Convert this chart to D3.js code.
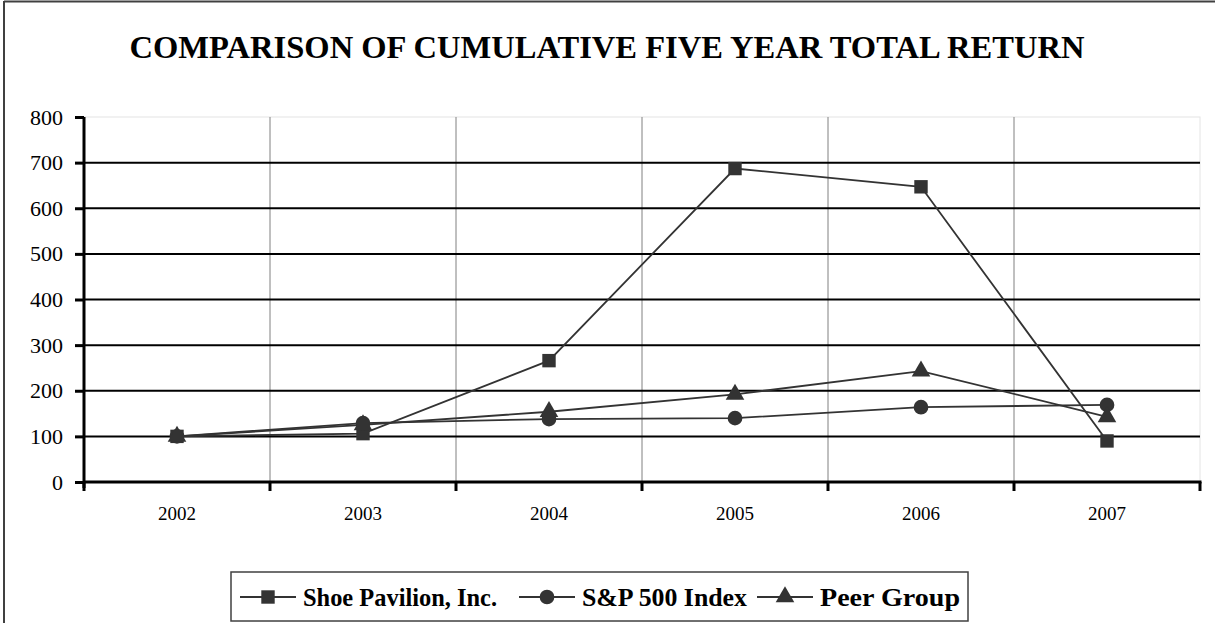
<!DOCTYPE html>
<html>
<head>
<meta charset="utf-8">
<script src="https://cdn.jsdelivr.net/npm/d3@7"></script>
<style>
  body { margin: 0; background: #fff; }
  svg text { font-family: "Liberation Serif", "Times New Roman", serif; }
</style>
</head>
<body>
<div id="chart"></div>
<script>
// data
var years = ["2002", "2003", "2004", "2005", "2006", "2007"];
var shoe  = [100, 106, 266, 687, 647, 90];
var sp500 = [100, 129, 138, 140, 164, 169];
var peer  = [100, 125, 154, 192, 243, 143];
var yTicks = [0, 100, 200, 300, 400, 500, 600, 700, 800];
var seriesNames = ["Shoe Pavilion, Inc.", "S&P 500 Index", "Peer Group"];
var seriesSymbols = [d3.symbolSquare, d3.symbolCircle, d3.symbolTriangle];

var W = 1215, H = 623;
var plot = {left: 84, right: 1200, top: 117, bot: 482};

var svg = d3.select("#chart").append("svg")
    .attr("width", W)
    .attr("height", H);

// outer frame (only top and left edges visible in the picture)
svg.append("line")
    .attr("x1", 4).attr("y1", 1.5).attr("x2", W).attr("y2", 1.5)
    .attr("stroke", "#404040").attr("stroke-width", 2);
svg.append("line")
    .attr("x1", 4).attr("y1", 1).attr("x2", 4).attr("y2", H)
    .attr("stroke", "#404040").attr("stroke-width", 2);

svg.append("text")
    .attr("x", 607)
    .attr("y", 58)
    .attr("text-anchor", "middle")
    .attr("font-size", 31)
    .attr("font-weight", "bold")
    .attr("textLength", 955)
    .attr("lengthAdjust", "spacingAndGlyphs")
    .text("COMPARISON OF CUMULATIVE FIVE YEAR TOTAL RETURN");

var x = d3.scaleBand().domain(years).range([plot.left, plot.right]);
var y = d3.scaleLinear().domain([0, 800]).range([plot.bot, plot.top]);

// plot area border (light)
svg.append("rect")
    .attr("x", plot.left).attr("y", plot.top)
    .attr("width", plot.right - plot.left).attr("height", plot.bot - plot.top)
    .attr("fill", "none").attr("stroke", "#e4e4e4").attr("stroke-width", 1);

// vertical gridlines at category boundaries
var bounds = years.slice(1).map(function(d) { return x(d); });
svg.append("g").selectAll("line")
    .data(bounds).enter().append("line")
    .attr("x1", function(d) { return d; })
    .attr("x2", function(d) { return d; })
    .attr("y1", plot.top).attr("y2", plot.bot)
    .attr("stroke", "#808080").attr("stroke-width", 1);

// horizontal gridlines
svg.append("g").selectAll("line")
    .data(yTicks.filter(function(v) { return v > 0 && v < 800; }))
    .enter().append("line")
    .attr("x1", plot.left).attr("x2", plot.right)
    .attr("y1", function(d) { return y(d); })
    .attr("y2", function(d) { return y(d); })
    .attr("stroke", "#000").attr("stroke-width", 2);

// y axis
var yAxis = svg.append("g")
    .attr("transform", "translate(" + plot.left + ",0)")
    .call(d3.axisLeft(y).tickValues(yTicks).tickSize(9).tickPadding(12));
yAxis.select(".domain").attr("stroke-width", 3).attr("d",
    "M0," + (plot.top) + "V" + (plot.bot + 6));
yAxis.selectAll(".tick line").attr("stroke-width", 3);
yAxis.selectAll("text")
    .attr("font-size", 22)
    .attr("font-family", "Liberation Serif, serif")
    .attr("fill", "#000");

// x axis: ticks at category boundaries
var xg = svg.append("g");
xg.append("line")
    .attr("x1", plot.left).attr("x2", plot.right + 1.5)
    .attr("y1", plot.bot).attr("y2", plot.bot)
    .attr("stroke", "#000").attr("stroke-width", 3);
xg.selectAll("line.tk")
    .data([plot.left].concat(bounds).concat([plot.right]))
    .enter().append("line")
    .attr("class", "tk")
    .attr("x1", function(d) { return d; })
    .attr("x2", function(d) { return d; })
    .attr("y1", plot.bot).attr("y2", plot.bot + 9)
    .attr("stroke", "#000").attr("stroke-width", 3);
xg.selectAll("text")
    .data(years).enter().append("text")
    .attr("x", function(d) { return x(d) + x.bandwidth() / 2; })
    .attr("y", plot.bot + 38)
    .attr("text-anchor", "middle")
    .attr("font-size", 19)
    .text(function(d) { return d; });

// series
var series = [shoe, sp500, peer];
var line = d3.line()
    .x(function(d, i) { return x(years[i]) + x.bandwidth() / 2; })
    .y(function(d) { return y(d); });
var symSize = [180, 170, 150];

series.forEach(function(vals, k) {
    svg.append("path")
        .datum(vals)
        .attr("d", line)
        .attr("fill", "none")
        .attr("stroke", "#333")
        .attr("stroke-width", 1.8);
});
series.forEach(function(vals, k) {
    svg.append("g").selectAll("path")
        .data(vals).enter().append("path")
        .attr("transform", function(d, i) {
            return "translate(" + (x(years[i]) + x.bandwidth() / 2) + "," + y(d) + ")";
        })
        .attr("d", d3.symbol().type(seriesSymbols[k]).size(symSize[k]))
        .attr("fill", "#333");
});

// legend
var lg = svg.append("g");
lg.append("rect")
    .attr("x", 231).attr("y", 572)
    .attr("width", 737).attr("height", 49)
    .attr("fill", "#fff").attr("stroke", "#404040").attr("stroke-width", 1.5);
var legX = [240, 519, 757];
var legW = [194, 165, 140];
seriesNames.forEach(function(name, k) {
    var g = lg.append("g").attr("transform", "translate(" + legX[k] + ",597)");
    g.append("line").attr("x1", 0).attr("x2", 56).attr("y1", 0).attr("y2", 0)
        .attr("stroke", "#333").attr("stroke-width", 1.8);
    g.append("path")
        .attr("transform", "translate(28,0)")
        .attr("d", d3.symbol().type(seriesSymbols[k]).size(symSize[k]))
        .attr("fill", "#333");
    g.append("text")
        .attr("x", 63).attr("y", 9)
        .attr("font-size", 25)
        .attr("font-weight", "bold")
        .attr("textLength", legW[k])
        .attr("lengthAdjust", "spacingAndGlyphs")
        .text(name);
});
</script>
</body>
</html>
